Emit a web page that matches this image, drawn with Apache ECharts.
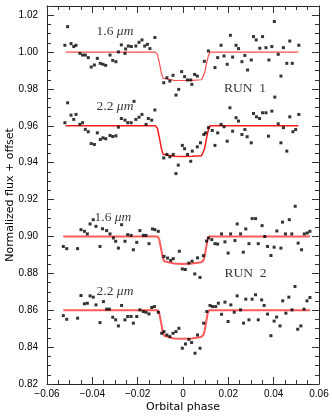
<!DOCTYPE html>
<html>
<head>
<meta charset="utf-8">
<script src="https://cdn.jsdelivr.net/npm/echarts@6/dist/echarts.min.js"></script>
<style>
  html, body { margin: 0; padding: 0; background: #fff; }
  #chart { width: 332px; height: 417px; }
</style>
</head>
<body>
<div id="chart"></div>
<script>
// measured points, [orbital phase, normalized flux + offset]
var run1_16 = [
  [-0.0521,1.0037],[-0.0509,1.0138],[-0.0494,1.0046],[-0.0482,1.0030],[-0.0472,1.0037],[-0.0455,0.9993],[-0.0443,0.9984],[-0.0431,0.9984],
  [-0.0418,0.9970],[-0.0405,0.9919],[-0.0391,0.9930],[-0.0378,0.9966],[-0.0365,0.9939],[-0.0353,0.9934],[-0.0341,0.9928],[-0.0322,0.9984],
  [-0.0310,0.9955],[-0.0296,0.9948],[-0.0285,1.0001],[-0.0272,1.0039],[-0.0256,0.9993],[-0.0253,1.0017],[-0.0241,1.0033],[-0.0228,1.0030],
  [-0.0208,1.0033],[-0.0194,1.0053],[-0.0181,1.0066],[-0.0169,1.0033],[-0.0157,1.0042],[-0.0146,1.0019],[-0.0124,1.0079],
  [-0.0085,0.9834],[-0.0071,0.9861],[-0.0058,0.9843],[-0.0044,0.9874],[-0.0031,0.9767],[-0.0019,0.9798],[-0.0006,0.9894],[0.0007,0.9867],
  [0.0020,0.9849],[0.0034,0.9849],[0.0039,0.9825],[0.0051,0.9879],[0.0063,0.9870],[0.0094,0.9950],
  [0.0112,1.0006],[0.0141,0.9916],[0.0153,0.9970],[0.0168,1.0037],[0.0181,0.9979],[0.0195,0.9934],[0.0209,1.0091],[0.0219,0.9973],
  [0.0234,1.0037],[0.0245,1.0019],[0.0260,0.9948],[0.0273,0.9982],[0.0285,0.9903],[0.0301,0.9957],[0.0311,1.0084],[0.0323,1.0066],
  [0.0339,1.0021],[0.0351,1.0084],[0.0366,1.0024],[0.0379,0.9957],[0.0392,1.0030],[0.0403,1.0166],[0.0405,0.9756],[0.0420,0.9988],
  [0.0432,0.9870],[0.0443,1.0024],[0.0458,0.9939],[0.0471,1.0060],[0.0482,0.9939],[0.0511,1.0037]
];
var run1_22 = [
  [-0.0521,0.9617],[-0.0509,0.9725],[-0.0494,0.9658],[-0.0482,0.9635],[-0.0472,0.9662],[-0.0455,0.9608],[-0.0443,0.9617],[-0.0431,0.9581],
  [-0.0418,0.9568],[-0.0405,0.9504],[-0.0391,0.9499],[-0.0378,0.9562],[-0.0365,0.9526],[-0.0353,0.9535],[-0.0341,0.9530],[-0.0322,0.9548],
  [-0.0310,0.9542],[-0.0296,0.9546],[-0.0285,0.9593],[-0.0272,0.9640],[-0.0256,0.9631],[-0.0244,0.9617],[-0.0229,0.9617],[-0.0216,0.9733],
  [-0.0208,0.9635],[-0.0194,0.9647],[-0.0181,0.9662],[-0.0163,0.9608],[-0.0153,0.9640],[-0.0138,0.9631],[-0.0124,0.9686],
  [-0.0085,0.9426],[-0.0071,0.9445],[-0.0058,0.9432],[-0.0043,0.9445],[-0.0031,0.9341],[-0.0021,0.9387],[-0.0003,0.9494],[0.0007,0.9476],
  [0.0020,0.9445],[0.0034,0.9408],[0.0041,0.9463],[0.0063,0.9486],[0.0077,0.9508],[0.0092,0.9553],[0.0100,0.9562],
  [0.0112,0.9590],[0.0129,0.9575],[0.0141,0.9494],[0.0153,0.9562],[0.0168,0.9608],[0.0181,0.9595],[0.0195,0.9517],[0.0207,0.9698],
  [0.0219,0.9571],[0.0234,0.9644],[0.0245,0.9626],[0.0260,0.9553],[0.0273,0.9580],[0.0283,0.9541],[0.0301,0.9508],[0.0311,0.9667],
  [0.0324,0.9649],[0.0338,0.9640],[0.0351,0.9671],[0.0366,0.9671],[0.0377,0.9544],[0.0392,0.9680],[0.0420,0.9611],[0.0432,0.9508],
  [0.0443,0.9590],[0.0458,0.9463],[0.0471,0.9649],[0.0485,0.9568],[0.0497,0.9580],[0.0511,0.9662]
];
var run2_16 = [
  [-0.0528,0.8946],[-0.0513,0.8934],[-0.0465,0.8934],[-0.0450,0.9037],[-0.0435,0.9028],[-0.0422,0.9014],[-0.0410,0.9068],[-0.0396,0.9091],
  [-0.0384,0.9055],[-0.0366,0.8946],[-0.0355,0.9042],[-0.0337,0.9032],[-0.0322,0.9014],[-0.0307,0.8992],[-0.0297,0.8974],[-0.0285,0.8937],
  [-0.0271,0.9064],[-0.0256,0.8974],[-0.0244,0.9010],[-0.0229,0.9006],[-0.0219,0.8928],[-0.0204,0.8968],[-0.0190,0.9032],[-0.0175,0.9006],
  [-0.0163,0.9006],[-0.0150,0.8961],[-0.0135,0.9041],[-0.0124,0.9037],[-0.0109,0.9028],
  [-0.0084,0.8892],[-0.0068,0.8883],[-0.0054,0.8870],[-0.0043,0.8880],[-0.0016,0.8920],[-0.0003,0.8824],[0.0010,0.8821],[0.0026,0.8856],
  [0.0040,0.8866],[0.0052,0.8797],[0.0064,0.8884],[0.0075,0.8778],[0.0090,0.8896],[0.0104,0.8975],
  [0.0112,0.8992],[0.0127,0.8983],[0.0141,0.8961],[0.0153,0.8959],[0.0170,0.9014],[0.0185,0.8971],[0.0199,0.8910],[0.0210,0.9014],
  [0.0229,0.8978],[0.0239,0.9068],[0.0254,0.9014],[0.0266,0.8915],[0.0277,0.9041],[0.0291,0.8961],[0.0305,0.9097],[0.0320,0.9097],
  [0.0332,0.8961],[0.0349,0.9059],[0.0361,0.9000],[0.0373,0.8946],[0.0388,0.8897],[0.0402,0.8942],[0.0414,0.9030],[0.0432,0.8937],
  [0.0439,0.9078],[0.0452,0.9014],[0.0469,0.9091],[0.0480,0.9014],[0.0495,0.9164],[0.0508,0.8964],[0.0523,0.8928],[0.0535,0.9014],
  [0.0548,0.9019],[0.0560,0.9028]
];
var run2_22 = [
  [-0.0528,0.8571],[-0.0513,0.8551],[-0.0465,0.8557],[-0.0450,0.8680],[-0.0435,0.8635],[-0.0422,0.8638],[-0.0410,0.8678],[-0.0396,0.8671],
  [-0.0384,0.8629],[-0.0366,0.8533],[-0.0351,0.8647],[-0.0337,0.8606],[-0.0325,0.8606],[-0.0310,0.8562],[-0.0297,0.8548],[-0.0285,0.8515],
  [-0.0271,0.8626],[-0.0256,0.8548],[-0.0244,0.8566],[-0.0229,0.8566],[-0.0219,0.8530],[-0.0204,0.8566],[-0.0190,0.8602],[-0.0175,0.8593],
  [-0.0163,0.8589],[-0.0150,0.8580],[-0.0138,0.8615],[-0.0126,0.8620],[-0.0109,0.8589],
  [-0.0094,0.8475],[-0.0084,0.8484],[-0.0071,0.8466],[-0.0058,0.8457],[-0.0044,0.8475],[-0.0031,0.8484],[-0.0018,0.8502],[-0.0003,0.8394],
  [0.0011,0.8417],[0.0026,0.8442],[0.0038,0.8425],[0.0053,0.8367],[0.0064,0.8466],[0.0075,0.8394],[0.0091,0.8530],
  [0.0105,0.8593],[0.0119,0.8626],[0.0130,0.8620],[0.0144,0.8620],[0.0156,0.8638],[0.0170,0.8578],[0.0185,0.8644],[0.0199,0.8539],
  [0.0211,0.8629],[0.0226,0.8589],[0.0239,0.8678],[0.0254,0.8602],[0.0267,0.8530],[0.0277,0.8660],[0.0291,0.8548],[0.0305,0.8660],
  [0.0320,0.8684],[0.0332,0.8548],[0.0347,0.8656],[0.0358,0.8626],[0.0373,0.8579],[0.0388,0.8462],[0.0402,0.8541],[0.0413,0.8563],
  [0.0428,0.8515],[0.0440,0.8651],[0.0454,0.8584],[0.0467,0.8671],[0.0481,0.8602],[0.0494,0.8729],[0.0506,0.8497],[0.0520,0.8515],
  [0.0534,0.8606],[0.0547,0.8651],[0.0560,0.8669]
];

// transit model curves
var modelPhaseRun1 = [-0.0518,-0.0122,-0.0113,-0.0104,-0.0095,-0.0088,-0.0082,-0.004,0,0.004,0.0082,0.0088,0.0095,0.0104,0.0113,0.0120,0.0509];
var model16Run1 = [1.0,1.0,0.9988,0.9940,0.9885,0.9858,0.9850,0.9847,0.9846,0.9847,0.9850,0.9858,0.9885,0.9940,0.9985,1.0,1.0];
var model22Run1 = [0.960,0.960,0.9587,0.9535,0.9475,0.9446,0.9438,0.9435,0.9434,0.9435,0.9438,0.9446,0.9475,0.9535,0.9585,0.960,0.960];
var modelPhaseRun2 = [-0.0528,-0.0112,-0.0105,-0.0097,-0.0089,-0.0083,-0.0077,-0.004,0,0.004,0.0080,0.0089,0.0095,0.0102,0.0109,0.0116,0.0560];
var model16Run2 = [0.900,0.900,0.8985,0.8935,0.8885,0.8866,0.8860,0.8853,0.8851,0.8853,0.8860,0.8868,0.8890,0.8940,0.8985,0.900,0.900];
var model22Run2 = [0.860,0.860,0.8585,0.8535,0.8480,0.8462,0.8455,0.8447,0.8445,0.8447,0.8455,0.8464,0.8485,0.8535,0.8585,0.860,0.860];

// text labels inside the plot
var noteText = ['{n|1.6 }{i|μm}', '{n|2.2 }{i|μm}', '{n|1.6 }{i|μm}', '{n|2.2 }{i|μm}', '{n|RUN  1}', '{n|RUN  2}'];
var notePhase = [-0.0300, -0.0300, -0.0309, -0.0300, 0.0273, 0.0276];
var noteFlux = [1.0110, 0.9705, 0.9102, 0.8700, 0.9803, 0.8798];

var chart = echarts.init(document.getElementById('chart'));

function pairUp(xs, ys) {
  return xs.map(function (x, i) { return [x, ys[i]]; });
}
function isMultiple(v, step) {
  var r = v / step;
  return Math.abs(r - Math.round(r)) < 1e-6;
}

var tickColor = '#333';
var labelFont = { fontFamily: 'Liberation Sans', fontSize: 10, color: '#000' };

function xAx(pos) {
  return {
    type: 'value', position: pos, min: -0.06, max: 0.06, interval: 0.02,
    axisLine: { show: true, onZero: false, lineStyle: { color: '#222', width: 1 } },
    axisTick: { show: true, inside: true, length: 7, lineStyle: { color: tickColor } },
    minorTick: { show: true, splitNumber: 4, length: 4, lineStyle: { color: tickColor } },
    splitLine: { show: false },
    axisLabel: pos === 'bottom' ? Object.assign({
      margin: 5,
      formatter: function (v) {
        if (Math.abs(v) < 1e-9) return '0';
        return (v < 0 ? '\u2212' : '') + Math.abs(v).toFixed(2);
      }
    }, labelFont) : { show: false },
    name: pos === 'bottom' ? 'Orbital phase' : '',
    nameLocation: 'middle', nameGap: 18, nameMoveOverlap: false,
    nameTextStyle: { fontFamily: 'DejaVu Sans', fontSize: 11, color: '#000' }
  };
}
function yAx(pos, step, tickLen, withLabel) {
  return {
    type: 'value', position: pos, min: 0.82, max: 1.025, interval: step,
    axisLine: { show: tickLen > 5, onZero: false, lineStyle: { color: '#222', width: 1 } },
    axisTick: { show: true, inside: true, length: tickLen, lineStyle: { color: tickColor } },
    splitLine: { show: false },
    axisLabel: withLabel ? Object.assign({
      margin: 9,
      formatter: function (v) { return isMultiple(v, 0.02) ? v.toFixed(2) : ''; }
    }, labelFont) : { show: false },
    name: withLabel ? 'Normalized flux + offset' : '',
    nameLocation: 'middle', nameGap: 31, nameMoveOverlap: false,
    nameTextStyle: { fontFamily: 'DejaVu Sans', fontSize: 11, color: '#000' }
  };
}

function dots(data) {
  return {
    type: 'scatter', data: data, symbol: 'rect', symbolSize: 3,
    itemStyle: { color: '#000' }, z: 3, silent: true
  };
}
function model(xs, ys, color, width) {
  return {
    type: 'line', data: pairUp(xs, ys), showSymbol: false, symbol: 'none',
    lineStyle: { color: color, width: width }, z: 2, silent: true
  };
}

var option = {
  animation: false,
  grid: { left: 47, right: 13, top: 6, bottom: 33, containLabel: false, outerBoundsMode: 'none' },
  xAxis: [xAx('bottom'), xAx('top')],
  yAxis: [
    yAx('left', 0.02, 7, true),
    yAx('left', 0.005, 4, false),
    yAx('right', 0.02, 7, false),
    yAx('right', 0.005, 4, false)
  ],
  series: [
    model(modelPhaseRun1, model16Run1, '#ff5050', 1.2),
    model(modelPhaseRun1, model22Run1, '#ff1a1a', 1.5),
    model(modelPhaseRun2, model16Run2, '#ff5a5a', 2),
    model(modelPhaseRun2, model22Run2, '#ff5a5a', 2),
    dots(run1_16), dots(run1_22), dots(run2_16), dots(run2_22),
    {
      type: 'scatter', silent: true, symbolSize: 1, itemStyle: { color: 'rgba(0,0,0,0)' },
      data: pairUp(notePhase, noteFlux).map(function (p, i) {
        return { value: p, label: { formatter: noteText[i] } };
      }),
      label: {
        show: true, position: 'inside', color: '#000',
        rich: {
          n: { fontFamily: 'Liberation Serif', fontSize: 13.5, color: '#000' },
          i: { fontFamily: 'Liberation Serif', fontStyle: 'italic', fontSize: 13.5, color: '#000' }
        }
      },
      z: 4
    }
  ]
};
chart.setOption(option);
</script>
</body>
</html>
